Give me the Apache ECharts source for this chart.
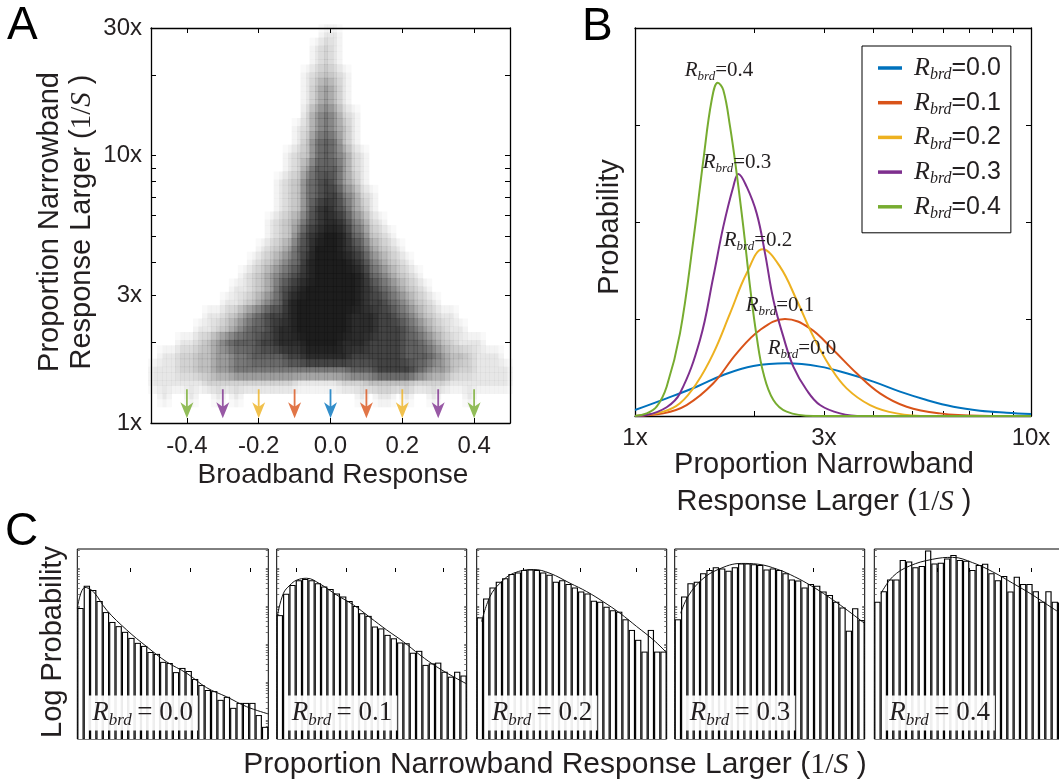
<!DOCTYPE html>
<html>
<head>
<meta charset="utf-8">
<script src="https://cdn.jsdelivr.net/npm/echarts@6/dist/echarts.min.js"></script>
<style>
  html, body { margin: 0; padding: 0; background: #fff; }
  #chart { width: 1059px; height: 783px; }
</style>
</head>
<body>
<div id="chart"></div>
<script>
const SANS = '"Liberation Sans", Arial, Helvetica, sans-serif';
const SERIF = '"Liberation Serif", "Times New Roman", serif';
const INK = '#231f20';

// ---------- panel A ----------
const aXTicks = [-0.4, -0.2, 0, 0.2, 0.4];
const aYLabels = [1, 3, 10, 30];
const aYTicks = [2, 3, 4, 5, 6, 7, 8, 9, 10, 20];
const arrowX = [-0.4, -0.3, -0.2, -0.1, 0, 0.1, 0.2, 0.3, 0.4];
const arrowColors = ['#77AC30', '#7E2F8E', '#EDB120', '#D95319', '#0072BD', '#D95319', '#EDB120', '#7E2F8E', '#77AC30'];
const arrowLevel = 1.18;

// point cloud density: one row per log10(1/S) step of 0.05 (top to bottom),
// 40 cells of 0.025 broadband response each (-0.5 .. 0.5), 0 = empty, 9 = black
const cloudRows = ['1.45', '1.40', '1.35', '1.30', '1.25', '1.20', '1.15', '1.10', '1.05', '1.00',
  '0.95', '0.90', '0.85', '0.80', '0.75', '0.70', '0.65', '0.60', '0.55', '0.50',
  '0.45', '0.40', '0.35', '0.30', '0.25', '0.20', '0.15', '0.10'];
const cloudDensity = [
  '0000000000 0000000001 1000000000 0000000000',
  '0000000000 0000000012 1000000000 0000000000',
  '0000000000 0000000012 1000000000 0000000000',
  '0000000000 0000000123 2100000000 0000000000',
  '0000000000 0000000134 3100000000 0000000000',
  '0000000000 0000000134 3100000000 0000000000',
  '0000000000 0000000245 4210000000 0000000000',
  '0000000000 0000001245 4310000000 0000000000',
  '0000000000 0000001356 5310000000 0000000000',
  '0000000000 0000012356 5421000000 0000000000',
  '0000000000 0000012466 6421000000 0000000000',
  '0000000000 0000123567 6431000000 0000000000',
  '0000000000 0000123567 7542100000 0000000000',
  '0000000000 0000123578 7643100000 0000000000',
  '0000000000 0001234678 8754210000 0000000000',
  '0000000000 0001235789 9865321000 0000000000',
  '0000000000 0012346799 9876432100 0000000000',
  '0000000000 0123456899 9987543210 0000000000',
  '0000000000 1234567899 9998654321 0000000000',
  '0000000001 1234678999 9998765432 1000000000',
  '0000000011 2345689999 9998776543 2100000000',
  '0000001123 4567789999 9988877654 3211000000',
  '0000011234 5667889999 9988877765 4321100000',
  '0001123456 6677888999 9888777766 5432111000',
  '0112233445 5666677888 8877777766 6543321110',
  '1112233445 5555555555 5566677776 5443221111',
  '1111112222 2222221111 1222333332 2221111111',
  '0100100101 0000000000 0001011010 0100010000'
];

// ---------- panel B ----------
const bLabels = ['0.0', '0.1', '0.2', '0.3', '0.4'];
const bColors = ['#0072BD', '#D95319', '#EDB120', '#7E2F8E', '#77AC30'];
const bXLabels = [1, 3, 10];
const bXTicks = [2, 3, 4, 5, 6, 7, 8, 9];
const bCurve00 = [[1, 0.062], [1.202, 0.182], [1.431, 0.302], [1.671, 0.423], [1.99, 0.515], [2.415, 0.543],
  [2.932, 0.509], [3.423, 0.44], [3.998, 0.354], [4.669, 0.251], [5.451, 0.165], [6.367, 0.096],
  [7.433, 0.055], [8.682, 0.034], [10, 0.021]];
const bCurve01 = [[1, 0], [1.179, 0.027], [1.35, 0.113], [1.577, 0.337], [1.806, 0.646], [2.069, 0.887],
  [2.392, 1.0], [2.766, 0.904], [3.169, 0.68], [3.628, 0.44], [4.156, 0.234], [4.853, 0.096],
  [5.891, 0.027], [7.433, 0.003], [10, 0]];
const bCurve02 = [[1, 0], [1.179, 0.045], [1.299, 0.131], [1.431, 0.337], [1.577, 0.646], [1.738, 1.058],
  [1.914, 1.471], [2.101, 1.718], [2.323, 1.54], [2.56, 1.196], [2.821, 0.818], [3.108, 0.509],
  [3.423, 0.285], [3.922, 0.113], [4.579, 0.027], [5.558, 0], [10, 0]];
const bCurve03 = [[1, 0], [1.07, 0.01], [1.202, 0.09], [1.299, 0.234], [1.459, 0.784], [1.577, 1.436],
  [1.671, 1.952], [1.771, 2.364], [1.824, 2.495], [1.914, 2.364], [2.029, 2.089], [2.13, 1.677],
  [2.236, 1.196], [2.369, 0.818], [2.511, 0.509], [2.713, 0.268], [2.932, 0.113], [3.294, 0.027],
  [3.772, 0], [10, 0]];
const bCurve04 = [[1, 0], [1.07, 0.027], [1.134, 0.096], [1.202, 0.302], [1.299, 0.852], [1.404, 1.814],
  [1.488, 2.639], [1.562, 3.258], [1.618, 3.436], [1.671, 3.361], [1.738, 2.983], [1.806, 2.502],
  [1.877, 1.952], [1.952, 1.333], [2.029, 0.818], [2.11, 0.44], [2.236, 0.165], [2.415, 0.045],
  [2.821, 0], [10, 0]];
const bCurves = [bCurve00, bCurve01, bCurve02, bCurve03, bCurve04];

// ---------- panel C (log10 probability per bin, 30 bins) ----------
const cBars0 = [-1.05, -0.47, -0.58, -0.87, -1.16, -1.42, -1.53, -1.68, -1.84, -1.97, -2.05, -2.21, -2.26, -2.47, -2.50,
  -2.74, -2.63, -2.71, -2.92, -3.08, -3.21, -3.24, -3.47, -3.39, -3.68, -3.55, -3.55, -3.55, -3.87, -4.18];
const cBars1 = [-1.24, -0.68, -0.45, -0.32, -0.29, -0.32, -0.40, -0.49, -0.55, -0.67, -0.75, -0.87, -1.00, -1.19, -1.26,
  -1.54, -1.59, -1.76, -1.85, -1.96, -1.98, -2.23, -2.18, -2.55, -2.51, -2.49, -2.73, -2.86, -2.73, -2.83];
const cBars2 = [-1.30, -0.80, -0.51, -0.36, -0.27, -0.16, -0.12, -0.05, -0.04, -0.05, -0.12, -0.18, -0.36, -0.32, -0.42,
  -0.51, -0.62, -0.67, -0.86, -0.89, -1.02, -1.11, -1.15, -1.35, -1.63, -1.89, -2.20, -1.63, -2.20, -2.20];
const cBars3 = [-1.35, -0.75, -0.40, -0.36, -0.14, -0.05, 0.02, -0.01, -0.07, 0.02, 0.12, 0.12, 0.10, 0.08, -0.04,
  -0.01, -0.05, -0.14, -0.30, -0.33, -0.51, -0.42, -0.47, -0.62, -0.71, -0.89, -1.04, -1.65, -1.06, -1.37];
const cBars4 = [-0.89, -0.61, -0.30, -0.30, 0.21, 0.17, 0.02, 0.05, 0.46, 0.12, 0.14, 0.25, 0.34, 0.21, 0.19,
  -0.05, 0.08, 0.11, -0.14, -0.32, -0.21, -0.62, -0.23, -0.42, -0.42, -0.61, -0.89, -0.61, -0.89, -0.91];
const cCurve0 = [[0, -1.06], [1.21, -0.51], [2.51, -0.62], [4.62, -1.11], [7.76, -1.63], [10.9, -2.07],
  [14.04, -2.47], [17.18, -2.77], [20.32, -3.15], [23.46, -3.39], [26.6, -3.65], [30, -3.84]];
const cCurve1 = [[0.1, -1.26], [1.05, -0.67], [2.1, -0.45], [3.15, -0.32], [4.73, -0.27], [6.84, -0.42],
  [9.47, -0.71], [12.1, -0.97], [14.73, -1.30], [17.36, -1.63], [20, -1.94], [22.63, -2.29],
  [25.26, -2.60], [27.89, -2.86], [30, -3.05]];
const cCurve2 = [[0.78, -1.41], [2.1, -0.75], [3.68, -0.40], [5.78, -0.14], [8.94, -0.04], [11.57, -0.14],
  [14.73, -0.40], [17.36, -0.62], [20, -0.89], [22.63, -1.19], [25.26, -1.54], [27.89, -1.89], [30, -2.23]];
const cCurve3 = [[0.94, -1.19], [2.1, -0.75], [4.2, -0.32], [6.84, -0.04], [10.52, 0.12], [13.15, 0.10],
  [16.31, -0.04], [18.94, -0.23], [21.57, -0.47], [24.2, -0.75], [26.84, -1.06], [30, -1.46]];
const cCurve4 = [[1.06, -0.67], [2.9, -0.23], [5.53, 0.05], [9.22, 0.23], [12.37, 0.28], [15.53, 0.14],
  [18.69, -0.10], [21.85, -0.40], [25.0, -0.71], [28.17, -1.06], [30, -1.25]];
const cTicks = [[8.3, 17.7, 27.1], [3.16, 10.94, 18.68, 26.26], [7.36, 16.31, 25.26], [5.53, 13.67, 21.84],
  [5.27, 10.0, 15.0, 19.74, 24.74]];
const cBars = [cBars0, cBars1, cBars2, cBars3, cBars4];
const cCurves = [cCurve0, cCurve1, cCurve2, cCurve3, cCurve4];

// ---------- layout ----------
const cLeft = [77.3, 276.7, 476.7, 674.7, 874.3];
const cWidth = [191, 190, 190, 190, 190];
const cYMin = -4.5, cYMax = 0.5;
// the cloud is drawn as four slightly shifted copies of the density grid to soften the cell edges
const heatShift = [[-2.7, -4], [2.7, -4], [-2.7, 4], [2.7, 4]];

const cYTicks = [];
for (let k = -5; k <= 0; k++) {
  for (let m = 1; m <= 9; m++) {
    const v = k + Math.log10(m);
    if (v > cYMin && v < cYMax) cYTicks.push(v);
  }
}

const heatData = [];
cloudDensity.forEach((row, i) => {
  row.replace(/ /g, '').split('').forEach((c, j) => {
    const d = +c;
    if (d > 0) heatData.push([j, i, d]);
  });
});
const heatCols = Array.from({length: 40}, (_, j) => String(j));

const tickStyle = {color: '#000', width: 1};
const lineStyleBox = {color: '#000', width: 1.3};

function barItem(params, api) {
  const i = api.value(0), v = api.value(1);
  const p0 = api.coord([i, v]);
  const p1 = api.coord([i + 1, v]);
  const base = api.coord([i, cYMin])[1];
  const w = p1[0] - p0[0], h = base - p0[1];
  return {
    type: 'group',
    children: [
      {type: 'rect', shape: {x: p0[0], y: p0[1], width: w, height: h}, style: {fill: '#000'}},
      {type: 'rect', shape: {x: p0[0] + 1.15, y: p0[1] + 1, width: w - 2.3, height: h}, style: {fill: '#fff'}}
    ]
  };
}

const grids = [{left: 151, top: 28, width: 359, height: 395}];
const xAxes = [
  {gridIndex: 0, type: 'value', min: -0.5, max: 0.5, position: 'bottom',
    axisLine: {show: true, onZero: false, lineStyle: lineStyleBox},
    axisTick: {show: true, inside: true, length: 5, customValues: aXTicks, lineStyle: tickStyle},
    axisLabel: {customValues: aXTicks, formatter: v => v.toFixed(1), fontFamily: SANS, fontSize: 24, color: INK, margin: 11},
    splitLine: {show: false}},
  {gridIndex: 0, type: 'value', min: -0.5, max: 0.5, position: 'top',
    axisLine: {show: true, onZero: false, lineStyle: lineStyleBox},
    axisTick: {show: true, inside: true, length: 5, customValues: aXTicks, lineStyle: tickStyle},
    axisLabel: {show: false}, splitLine: {show: false}}
];
const yAxes = [
  {gridIndex: 0, type: 'log', logBase: 10, min: 1, max: 30, position: 'left',
    axisLine: {show: true, onZero: false, lineStyle: lineStyleBox},
    axisTick: {show: true, inside: true, length: 5, customValues: aYTicks, lineStyle: tickStyle},
    axisLabel: {customValues: aYLabels, formatter: v => Math.round(v) + 'x', fontFamily: SANS, fontSize: 24, color: INK, margin: 9},
    splitLine: {show: false}},
  {gridIndex: 0, type: 'log', logBase: 10, min: 1, max: 30, position: 'right',
    axisLine: {show: true, onZero: false, lineStyle: lineStyleBox},
    axisTick: {show: true, inside: true, length: 5, customValues: aYTicks, lineStyle: tickStyle},
    axisLabel: {show: false}, splitLine: {show: false}}
];
const series = [];
const heatSeries = [];

// heat layers
heatShift.forEach(s => {
  const g = grids.length;
  grids.push({left: 151 + s[0], top: 28.6 + s[1], width: 359, height: 374.4});
  xAxes.push({gridIndex: g, type: 'category', data: heatCols, show: false});
  yAxes.push({gridIndex: g, type: 'category', data: cloudRows, inverse: true, show: false});
  heatSeries.push(series.length);
  series.push({type: 'heatmap', name: 'cloud' + g, xAxisIndex: xAxes.length - 1, yAxisIndex: yAxes.length - 1,
    data: heatData, silent: true, itemStyle: {borderWidth: 0}, emphasis: {disabled: true}, z: 1});
});

// panel B
const gB = grids.length;
grids.push({left: 635, top: 28, width: 396, height: 388});
const xB = xAxes.length;
xAxes.push(
  {gridIndex: gB, type: 'log', logBase: 10, min: 1, max: 10, position: 'bottom',
    axisLine: {show: true, onZero: false, lineStyle: lineStyleBox},
    axisTick: {show: true, inside: true, length: 5, customValues: bXTicks, lineStyle: tickStyle},
    axisLabel: {customValues: bXLabels, formatter: v => Math.round(v) + 'x', fontFamily: SANS, fontSize: 24, color: INK, margin: 10},
    splitLine: {show: false}},
  {gridIndex: gB, type: 'log', logBase: 10, min: 1, max: 10, position: 'top',
    axisLine: {show: true, onZero: false, lineStyle: lineStyleBox},
    axisTick: {show: true, inside: true, length: 5, customValues: bXTicks, lineStyle: tickStyle},
    axisLabel: {show: false}, splitLine: {show: false}}
);
const yB = yAxes.length;
['left', 'right'].forEach(side => yAxes.push({gridIndex: gB, type: 'value', min: 0, max: 4, interval: 1, position: side,
  axisLine: {show: true, onZero: false, lineStyle: lineStyleBox},
  axisTick: {show: true, inside: true, length: 5, lineStyle: tickStyle},
  axisLabel: {show: false}, splitLine: {show: false}}));

series.push({type: 'scatter', name: 'arrows', xAxisIndex: 0, yAxisIndex: 0, silent: true, z: 10,
  symbol: 'path://M5.6,0 L7.4,0 L7.4,17 L13,13 L6.5,29 L0,13 L5.6,17 Z', symbolSize: [13, 29],
  data: arrowX.map((x, i) => ({value: [x, arrowLevel], itemStyle: {color: arrowColors[i]}}))});
bCurves.forEach((c, k) => series.push({
  type: 'line', name: bLabels[k], xAxisIndex: xB, yAxisIndex: yB, data: c, smooth: 0.4,
  symbol: 'none', clip: true, silent: true, z: 3 + k,
  lineStyle: {color: bColors[k], width: 2}, itemStyle: {color: bColors[k]}
}));

// panel C
cLeft.forEach((l, k) => {
  const g = grids.length;
  grids.push({left: l, top: 549, width: cWidth[k], height: 190, show: true, borderColor: '#000', borderWidth: 1});
  xAxes.push({gridIndex: g, type: 'value', min: 0, max: 30, position: 'top',
    axisLine: {show: false},
    axisTick: {show: true, inside: true, length: 4, customValues: cTicks[k], lineStyle: tickStyle},
    axisLabel: {show: false}, splitLine: {show: false}});
  const xi = xAxes.length - 1;
  const yi = yAxes.length;
  ['left', 'right'].forEach(side => yAxes.push({gridIndex: g, type: 'value', min: cYMin, max: cYMax, position: side,
    axisLine: {show: false},
    axisTick: {show: true, inside: true, length: 2.5, customValues: cYTicks, lineStyle: {color: '#555', width: 0.8}},
    axisLabel: {show: false}, splitLine: {show: false}}));
  series.push({type: 'custom', name: 'hist' + k, xAxisIndex: xi, yAxisIndex: yi, clip: true, silent: true,
    renderItem: barItem, data: cBars[k].map((v, i) => [i, v]), z: 2});
  series.push({type: 'line', name: 'fit' + k, xAxisIndex: xi, yAxisIndex: yi, data: cCurves[k], smooth: 0.4,
    symbol: 'none', clip: true, silent: true, z: 4, lineStyle: {color: '#111', width: 1}});
});
grids.forEach(g => { g.outerBoundsMode = 'none'; g.containLabel = false; });

// ---------- text ----------
function titleRich(size) {
  return {
    a: {fontFamily: SANS, fontSize: size, fill: INK},
    n: {fontFamily: SERIF, fontSize: size, fill: INK},
    i: {fontFamily: SERIF, fontStyle: 'italic', fontSize: size, fill: INK}
  };
}
function title(x, y, text, vertical, size) {
  return {type: 'text', x: x, y: y, rotation: vertical ? Math.PI / 2 : 0, silent: true,
    style: {text: text, rich: titleRich(size || 29), align: 'center', verticalAlign: 'middle',
      textAlign: 'center', textVerticalAlign: 'middle', fill: INK}};
}
function letter(t, x, y) {
  return {type: 'text', x: x, y: y, silent: true,
    style: {text: t, fontFamily: SANS, fontSize: 46, fill: '#000', align: 'left', verticalAlign: 'middle',
      textAlign: 'left', textVerticalAlign: 'middle'}};
}
function rLabel(x, y, val, size, align, bg) {
  const st = {
    text: '{r|R}{s|brd}{v|' + val + '}',
    rich: {
      r: {fontFamily: SERIF, fontStyle: 'italic', fontSize: size, lineHeight: size + 6, fill: INK},
      s: {fontFamily: SERIF, fontStyle: 'italic', fontSize: Math.round(size * 0.62), lineHeight: Math.round(size * 0.55), verticalAlign: 'bottom', fill: INK},
      v: {fontFamily: SERIF, fontSize: size, lineHeight: size + 6, fill: INK}
    },
    align: align, verticalAlign: 'middle', textAlign: align, textVerticalAlign: 'middle', fill: INK
  };
  if (bg) { st.backgroundColor = 'rgba(255,255,255,0.92)'; st.padding = [1, 5, 1, 4]; }
  return {type: 'text', x: x, y: y, silent: true, z: 20, style: st};
}

const curveLabelPos = [[802, 348], [780, 305], [758, 240], [737, 162], [719, 70]];
const graphics = [
  letter('A', 7, 26), letter('B', 582, 27), letter('C', 5, 532),
  title(50, 222, '{a|Proportion Narrowband}', true),
  title(82, 222, '{a|Response Larger (}{n|1/}{i|S}{a| )}', true),
  title(333, 475, '{a|Broadband Response}', false, 28),
  title(610, 227, '{a|Probability}', true),
  title(824, 465, '{a|Proportion Narrowband}', false),
  title(824, 502, '{a|Response Larger (}{n|1/}{i|S}{a| )}', false),
  title(53, 642, '{a|Log Probability}', true),
  title(555, 765, '{a|Proportion Narrowband Response Larger (}{n|1/}{i|S}{a| )}', false, 30)
];
curveLabelPos.forEach((p, k) => graphics.push(rLabel(p[0], p[1], '=' + bLabels[k], 21, 'center', false)));
cLeft.forEach((l, k) => graphics.push(rLabel(l + 11, 713, '\u2009= ' + bLabels[k], 27, 'left', true)));

const chart = echarts.init(document.getElementById('chart'), null, {renderer: 'canvas'});
chart.setOption({
  animation: false,
  backgroundColor: '#fff',
  grid: grids,
  xAxis: xAxes,
  yAxis: yAxes,
  visualMap: [{type: 'continuous', show: false, seriesIndex: heatSeries, min: 0, max: 9,
    inRange: {color: ['rgba(60,60,60,0)', 'rgba(50,50,50,0.09)', 'rgba(35,35,35,0.27)', 'rgba(20,20,20,0.55)']}}],
  legend: {
    data: bLabels, orient: 'vertical', left: 862, top: 46, padding: [9, 10, 11, 16],
    itemGap: 6.7, itemWidth: 24, itemHeight: 3.5, icon: 'rect', selectedMode: false,
    borderColor: '#000', borderWidth: 1, borderRadius: 0, backgroundColor: '#fff',
    formatter: n => '{r|R}{s|brd}{v|=' + n + '}',
    textStyle: {
      rich: {
        r: {fontFamily: SERIF, fontStyle: 'italic', fontSize: 26, lineHeight: 30, color: INK, padding: [0, 0, 0, 7]},
        s: {fontFamily: SERIF, fontStyle: 'italic', fontSize: 16, lineHeight: 14, verticalAlign: 'bottom', color: INK},
        v: {fontFamily: SANS, fontSize: 25, lineHeight: 30, color: INK}
      }
    }
  },
  graphic: graphics,
  series: series
});
</script>
</body>
</html>
